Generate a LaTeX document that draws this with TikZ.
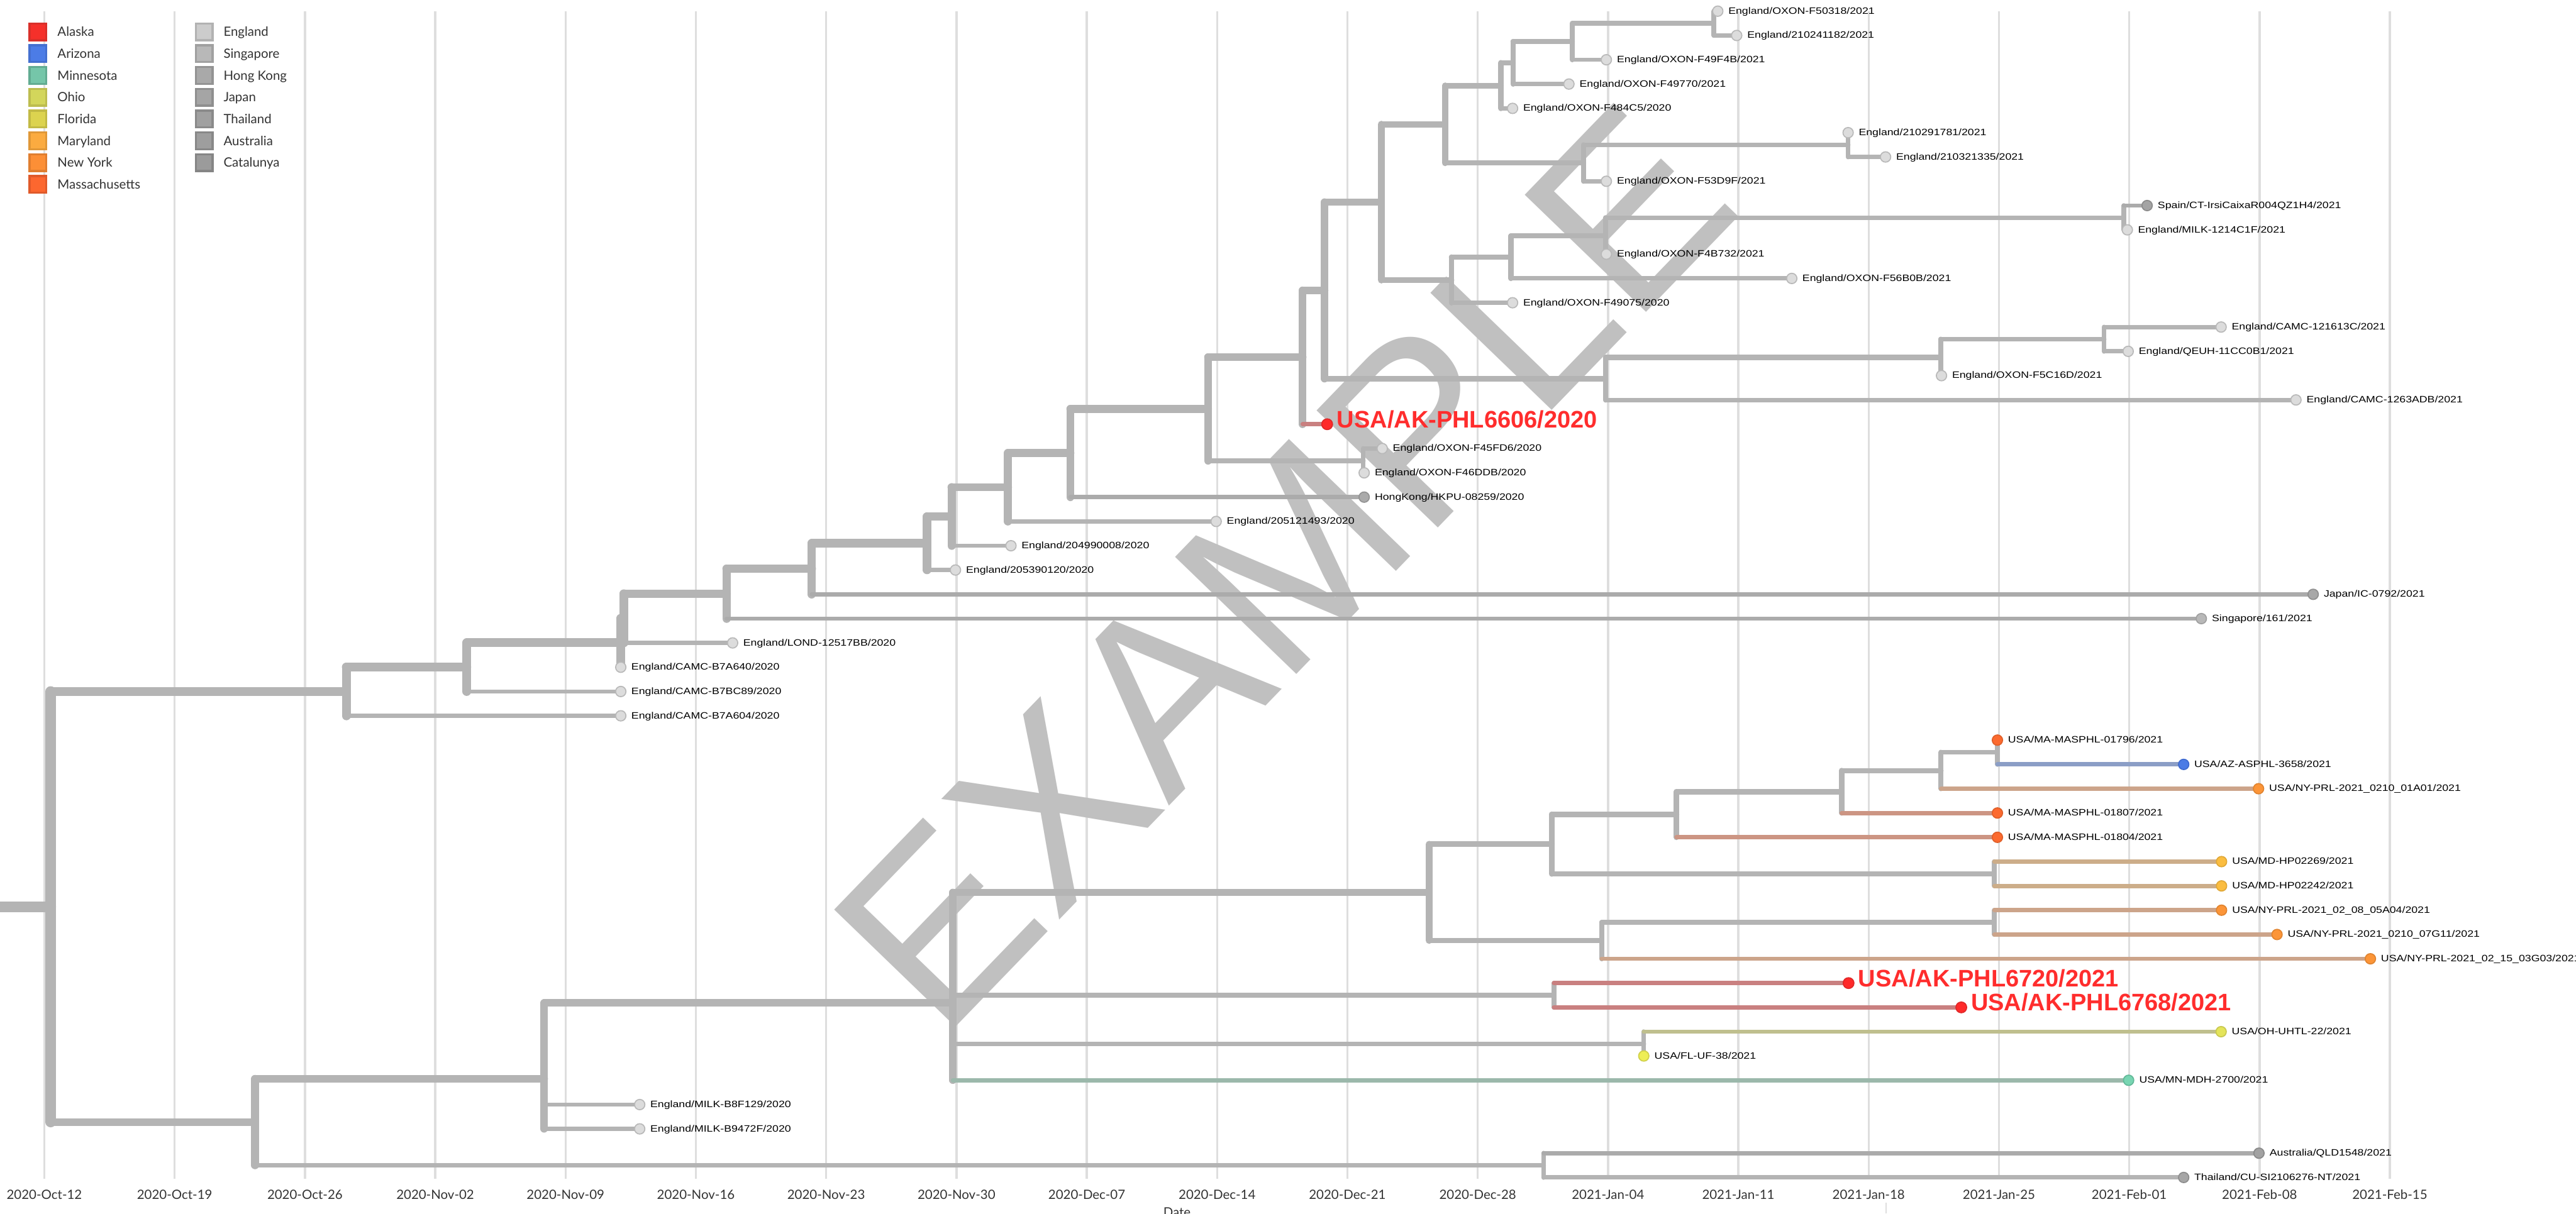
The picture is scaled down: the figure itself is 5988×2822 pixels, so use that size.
\documentclass[tikz,border=0pt]{standalone}
\usepackage{fontspec}
\setmainfont{Liberation Sans}
\newfontfamily\labfont[FakeStretch=1.2]{Liberation Sans}
\newfontfamily\bigfont{Liberation Sans}
\newfontfamily\latofont{Lato}
\newfontfamily\wmfont{Liberation Sans}
\definecolor{brgray}{HTML}{B4B4B4}
\definecolor{gridc}{HTML}{DEDEDE}
\definecolor{wmgray}{HTML}{C0C0C0}
\definecolor{axtext}{HTML}{333333}
\definecolor{akred}{HTML}{FF2D2D}
% branch colours
\definecolor{brAK}{HTML}{C98080}
\definecolor{brAZ}{HTML}{8B9EC6}
\definecolor{brNY}{HTML}{CCA48A}
\definecolor{brMA}{HTML}{CC9583}
\definecolor{brMD}{HTML}{CCAD89}
\definecolor{brOH}{HTML}{BFBF8E}
\definecolor{brMN}{HTML}{9BB8AB}
\definecolor{brDK}{HTML}{ABABAB}
% tip colours
\definecolor{engF}{HTML}{DCDCDC}\definecolor{engD}{HTML}{B9B9B9}
\definecolor{sinF}{HTML}{B8B8B8}\definecolor{sinD}{HTML}{A0A0A0}
\definecolor{hkF}{HTML}{AAAAAA}\definecolor{hkD}{HTML}{939393}
\definecolor{jpF}{HTML}{A8A8A8}\definecolor{jpD}{HTML}{909090}
\definecolor{thF}{HTML}{A6A6A6}\definecolor{thD}{HTML}{8E8E8E}
\definecolor{auF}{HTML}{A2A2A2}\definecolor{auD}{HTML}{8A8A8A}
\definecolor{caF}{HTML}{A4A4A4}\definecolor{caD}{HTML}{8C8C8C}
\definecolor{akF}{HTML}{FF2A2A}\definecolor{akD}{HTML}{E02828}
\definecolor{azF}{HTML}{4B7BE5}\definecolor{azD}{HTML}{3F6BD0}
\definecolor{mnF}{HTML}{78D5B2}\definecolor{mnD}{HTML}{62B898}
\definecolor{ohF}{HTML}{E4E45A}\definecolor{ohD}{HTML}{C8C850}
\definecolor{flF}{HTML}{EEEE55}\definecolor{flD}{HTML}{D0D04A}
\definecolor{mdF}{HTML}{FBBD40}\definecolor{mdD}{HTML}{E0A838}
\definecolor{nyF}{HTML}{FC9538}\definecolor{nyD}{HTML}{E08430}
\definecolor{maF}{HTML}{FC6A2F}\definecolor{maD}{HTML}{E0602A}
% legend colours
\definecolor{lAKf}{HTML}{F5302A}\definecolor{lAKd}{HTML}{D9302A}
\definecolor{lAZf}{HTML}{4C7CE6}\definecolor{lAZd}{HTML}{4470D0}
\definecolor{lMNf}{HTML}{75C6A9}\definecolor{lMNd}{HTML}{62AC92}
\definecolor{lOHf}{HTML}{D3D65B}\definecolor{lOHd}{HTML}{BDBD4F}
\definecolor{lFLf}{HTML}{DCD34F}\definecolor{lFLd}{HTML}{C2BA45}
\definecolor{lMDf}{HTML}{FBAB40}\definecolor{lMDd}{HTML}{E09838}
\definecolor{lNYf}{HTML}{FC8F36}\definecolor{lNYd}{HTML}{E07E30}
\definecolor{lMAf}{HTML}{FC672F}\definecolor{lMAd}{HTML}{E05A2A}
\definecolor{lENf}{HTML}{CCCCCC}\definecolor{lENd}{HTML}{B2B2B2}
\definecolor{lSGf}{HTML}{B8B8B8}\definecolor{lSGd}{HTML}{A0A0A0}
\definecolor{lHKf}{HTML}{A9A9A9}\definecolor{lHKd}{HTML}{939393}
\definecolor{lJPf}{HTML}{A5A5A5}\definecolor{lJPd}{HTML}{8F8F8F}
\definecolor{lTHf}{HTML}{A0A0A0}\definecolor{lTHd}{HTML}{8A8A8A}
\definecolor{lAUf}{HTML}{9E9E9E}\definecolor{lAUd}{HTML}{888888}
\definecolor{lCAf}{HTML}{9B9B9B}\definecolor{lCAd}{HTML}{858585}

\tikzset{
  br/.style={line cap=round, draw=brgray, line width=#1*0.01cm},
  tipc/.style 2 args={circle, inner sep=0pt, minimum size=0.24cm, fill=#1, draw=#2, line width=0.025cm},
  bigtip/.style 2 args={circle, inner sep=0pt, minimum size=0.25cm, fill=#1, draw=#2, line width=0.025cm},
  lab/.style={anchor=base west, inner sep=0pt, xshift=0.24cm, yshift=-0.065cm, font=\labfont\fontsize{6.14pt}{7pt}\selectfont, text=black},
  biglab/.style={anchor=base west, inner sep=0pt, xshift=0.22cm, yshift=-0.08cm, font=\bigfont\bfseries\fontsize{15.8pt}{16pt}\selectfont, text=akred},
  sq/.style 2 args={rectangle, inner sep=0pt, minimum size=0.39cm, fill=#1, draw=#2, line width=0.05cm},
  legtxt/.style={anchor=base west, inner sep=0pt, yshift=-0.105cm, font=\latofont\fontsize{8.5pt}{9pt}\selectfont, text=axtext},
  axlab/.style={anchor=base, inner sep=0pt, font=\latofont\fontsize{8.5pt}{9pt}\selectfont, text=axtext},
  gridline/.style={draw=gridc, line width=0.05cm}
}
\newcommand\brH[4][brgray]{\draw[br=#4, draw=#1] (#2 |- #3) -- (#3);}
\newcommand\brV[4]{\draw[br=#4] (#1 |- #2) -- (#1 |- #3);}

\begin{document}
\begin{tikzpicture}[x=0.01cm, y=-0.01cm]
\useasboundingbox (0,0) rectangle (5988,2822);
\clip (0,0) rectangle (5988,2822);
\fill[white] (0,0) rectangle (5988,2822);

% ---------- grid and axis ----------
\foreach \lbl [count=\k from 0] in {2020-Oct-12,2020-Oct-19,2020-Oct-26,2020-Nov-02,2020-Nov-09,2020-Nov-16,2020-Nov-23,2020-Nov-30,2020-Dec-07,2020-Dec-14,2020-Dec-21,2020-Dec-28,2021-Jan-04,2021-Jan-11,2021-Jan-18,2021-Jan-25,2021-Feb-01,2021-Feb-08,2021-Feb-15}{
  \coordinate (G\k t) at (103+302.9*\k, 27);
  \coordinate (G\k b) at (103+302.9*\k, 2741);
  \draw[gridline] (G\k t) -- (G\k b);
  \node[axlab] (X\k) at (103+302.9*\k, 2788) {\lbl};
}
\node[axlab] (date) at (2736, 2830) {Date};
\coordinate (sb1) at (4384, 2797);
\coordinate (sb2) at (4384, 2822);
\draw[draw=gridc, line width=0.02cm] (sb1) -- (sb2);

% ---------- watermark ----------
\node[rotate=46, inner sep=0pt, text=wmgray, font=\wmfont\fontsize{162pt}{162pt}\selectfont] (WM) at (2983,1318) {EXAMPLE};

% ---------- tips ----------
\coordinate (t0) at (3993, 26);
\coordinate (t1) at (4037, 82.5);
\coordinate (t2) at (3734, 139);
\coordinate (t3) at (3647, 195.5);
\coordinate (t4) at (3516, 252);
\coordinate (t5) at (4296, 308.5);
\coordinate (t6) at (4383, 365);
\coordinate (t7) at (3734, 421.5);
\coordinate (t8) at (4991, 478);
\coordinate (t9) at (4945, 534.5);
\coordinate (t10) at (3734, 591);
\coordinate (t11) at (4165, 647.5);
\coordinate (t12) at (3516, 704);
\coordinate (t13) at (5163, 760.5);
\coordinate (t14) at (4947, 817);
\coordinate (t15) at (4513, 873.5);
\coordinate (t16) at (5337, 930);
\coordinate (t17) at (3085, 986.5);
\coordinate (t18) at (3213, 1043);
\coordinate (t19) at (3171, 1099.5);
\coordinate (t20) at (3171, 1156);
\coordinate (t21) at (2827, 1212.5);
\coordinate (t22) at (2350, 1269);
\coordinate (t23) at (2221, 1325.5);
\coordinate (t24) at (5377, 1382);
\coordinate (t25) at (5117, 1438.5);
\coordinate (t26) at (1703, 1495);
\coordinate (t27) at (1443, 1551.5);
\coordinate (t28) at (1443, 1608);
\coordinate (t29) at (1443, 1664.5);
\coordinate (t30) at (4643, 1721);
\coordinate (t31) at (5076, 1777.5);
\coordinate (t32) at (5250, 1834);
\coordinate (t33) at (4643, 1890.5);
\coordinate (t34) at (4643, 1947);
\coordinate (t35) at (5164, 2003.5);
\coordinate (t36) at (5164, 2060);
\coordinate (t37) at (5164, 2116.5);
\coordinate (t38) at (5293, 2173);
\coordinate (t39) at (5510, 2229.5);
\coordinate (t40) at (4297, 2286);
\coordinate (t41) at (4559, 2342.5);
\coordinate (t42) at (5163, 2399);
\coordinate (t43) at (3821, 2455.5);
\coordinate (t44) at (4948, 2512);
\coordinate (t45) at (1487, 2568.5);
\coordinate (t46) at (1487, 2625);
\coordinate (t47) at (5251, 2681.5);
\coordinate (t48) at (5076, 2738);

% ---------- internal nodes ----------
\coordinate (r0) at (0, 2108.53);
\coordinate (root) at (118, 2108.53);
\coordinate (a19) at (805, 1607.91);
\coordinate (a18) at (1085, 1551.32);
\coordinate (a17) at (1443, 1494.64);
\coordinate (a16) at (1450, 1437.78);
\coordinate (a15) at (1689, 1380.56);
\coordinate (a14) at (1887, 1322.63);
\coordinate (a13) at (2155, 1263.26);
\coordinate (a12) at (2212, 1201.01);
\coordinate (a11) at (2343, 1133.02);
\coordinate (a10) at (2488, 1053.54);
\coordinate (a9) at (2808, 951.08);
\coordinate (a8) at (3028, 830.9);
\coordinate (a7) at (3079, 675.3);
\coordinate (a6) at (3211, 470.05);
\coordinate (a5) at (3359, 289.08);
\coordinate (a4) at (3489, 199.03);
\coordinate (a3) at (3517, 146.06);
\coordinate (a2) at (3655, 96.63);
\coordinate (a1) at (3984, 54.25);
\coordinate (b2) at (3681, 379.13);
\coordinate (b1) at (4296, 336.75);
\coordinate (c4) at (3374, 651.03);
\coordinate (c3) at (3512, 598.06);
\coordinate (c2) at (3732, 548.63);
\coordinate (c1) at (4937, 506.25);
\coordinate (d3) at (3732, 880.56);
\coordinate (d2) at (4511, 831.13);
\coordinate (d1) at (4891, 788.75);
\coordinate (e1) at (3169, 1071.25);
\coordinate (q1) at (593, 2609.15);
\coordinate (n1) at (1265, 2508.54);
\coordinate (m1) at (2215, 2332.13);
\coordinate (k1) at (3322, 2075.01);
\coordinate (f5) at (3607, 1962.89);
\coordinate (f4) at (3897, 1894.03);
\coordinate (f3) at (4281, 1841.06);
\coordinate (f2) at (4512, 1791.63);
\coordinate (f1) at (4643, 1749.25);
\coordinate (g1) at (4636, 2031.75);
\coordinate (h2) at (3723, 2187.13);
\coordinate (h1) at (4636, 2144.75);
\coordinate (i1) at (3612, 2314.25);
\coordinate (j1) at (3821, 2427.25);
\coordinate (p1) at (3588, 2709.75);

% ---------- vertical branches ----------
\brV{root}{a19}{q1}{24.4}
\brV{a19}{a18}{t29}{20.7}
\brV{a18}{a17}{t28}{20.5}
\brV{a17}{a16}{t27}{20.3}
\brV{a16}{a15}{t26}{20.1}
\brV{a15}{a14}{t25}{19.8}
\brV{a14}{a13}{t24}{19.6}
\brV{a13}{a12}{t23}{19.4}
\brV{a12}{a11}{t22}{19.1}
\brV{a11}{a10}{t21}{18.9}
\brV{a10}{a9}{t20}{18.6}
\brV{a9}{a8}{e1}{18.3}
\brV{a8}{a7}{t17}{17.8}
\brV{a7}{a6}{d3}{17.5}
\brV{a6}{a5}{c4}{16.3}
\brV{a5}{a4}{b2}{14.4}
\brV{a4}{a3}{t4}{13}
\brV{a3}{a2}{t3}{12.4}
\brV{a2}{a1}{t2}{11.8}
\brV{a1}{t0}{t1}{11}
\brV{b2}{b1}{t7}{11.8}
\brV{b1}{t5}{t6}{11}
\brV{c4}{c3}{t12}{13}
\brV{c3}{c2}{t11}{12.4}
\brV{c2}{c1}{t10}{11.8}
\brV{c1}{t8}{t9}{11}
\brV{d3}{d2}{t16}{12.4}
\brV{d2}{d1}{t15}{11.8}
\brV{d1}{t13}{t14}{11}
\brV{e1}{t18}{t19}{11}
\brV{q1}{n1}{p1}{18.1}
\brV{n1}{m1}{t46}{17.5}
\brV{m1}{k1}{t44}{16.9}
\brV{k1}{f5}{h2}{15.2}
\brV{f5}{f4}{g1}{14}
\brV{f4}{f3}{t34}{13}
\brV{f3}{f2}{t33}{12.4}
\brV{f2}{f1}{t32}{11.8}
\brV{f1}{t30}{t31}{11}
\brV{g1}{t35}{t36}{11}
\brV{h2}{h1}{t39}{11.8}
\brV{h1}{t37}{t38}{11}
\brV{i1}{t40}{t41}{11}
\brV{j1}{t42}{t43}{11}
\brV{p1}{t47}{t48}{11}

% ---------- horizontal branches ----------
\draw[br=24.4] (r0) -- (root);
\brH{root}{a19}{20.7} \brH{root}{q1}{18.1}
\brH{a19}{a18}{20.5} \brH{a19}{t29}{10}
\brH{a18}{a17}{20.3} \brH{a18}{t28}{10}
\brH{a17}{a16}{20.1} \brH{a17}{t27}{10}
\brH{a16}{a15}{19.8} \brH{a16}{t26}{10}
\brH{a15}{a14}{19.6} \brH[brDK]{a15}{t25}{10}
\brH{a14}{a13}{19.4} \brH[brDK]{a14}{t24}{10}
\brH{a13}{a12}{19.1} \brH{a13}{t23}{10}
\brH{a12}{a11}{18.9} \brH{a12}{t22}{10}
\brH{a11}{a10}{18.6} \brH{a11}{t21}{10}
\brH{a10}{a9}{18.3} \brH[brDK]{a10}{t20}{10}
\brH{a9}{a8}{17.8} \brH{a9}{e1}{11}
\brH{a8}{a7}{17.5} \brH[brAK]{a8}{t17}{10}
\brH{a7}{a6}{16.3} \brH{a7}{d3}{12.4}
\brH{a6}{a5}{14.4} \brH{a6}{c4}{13}
\brH{a5}{a4}{13} \brH{a5}{b2}{11.8}
\brH{a4}{a3}{12.4} \brH{a4}{t4}{10}
\brH{a3}{a2}{11.8} \brH{a3}{t3}{10}
\brH{a2}{a1}{11} \brH{a2}{t2}{10}
\brH{a1}{t0}{10} \brH{a1}{t1}{10}
\brH{b2}{b1}{11} \brH{b2}{t7}{10}
\brH{b1}{t5}{10} \brH{b1}{t6}{10}
\brH{c4}{c3}{12.4} \brH{c4}{t12}{10}
\brH{c3}{c2}{11.8} \brH{c3}{t11}{10}
\brH{c2}{c1}{11} \brH{c2}{t10}{10}
\brH[brDK]{c1}{t8}{10} \brH{c1}{t9}{10}
\brH{d3}{d2}{11.8} \brH{d3}{t16}{10}
\brH{d2}{d1}{11} \brH{d2}{t15}{10}
\brH{d1}{t13}{10} \brH{d1}{t14}{10}
\brH{e1}{t18}{10} \brH{e1}{t19}{10}
\brH{q1}{n1}{17.5} \brH{q1}{p1}{11}
\brH{n1}{m1}{16.9} \brH{n1}{t45}{10} \brH{n1}{t46}{10}
\brH{m1}{k1}{15.2} \brH{m1}{i1}{11} \brH{m1}{j1}{11} \brH[brMN]{m1}{t44}{10}
\brH{k1}{f5}{14} \brH{k1}{h2}{11.8}
\brH{f5}{f4}{13} \brH{f5}{g1}{11}
\brH{f4}{f3}{12.4} \brH[brMA]{f4}{t34}{10}
\brH{f3}{f2}{11.8} \brH[brMA]{f3}{t33}{10}
\brH{f2}{f1}{11} \brH[brNY]{f2}{t32}{10}
\brH[brMA]{f1}{t30}{10} \brH[brAZ]{f1}{t31}{10}
\brH[brMD]{g1}{t35}{10} \brH[brMD]{g1}{t36}{10}
\brH{h2}{h1}{11} \brH[brNY]{h2}{t39}{10}
\brH[brNY]{h1}{t37}{10} \brH[brNY]{h1}{t38}{10}
\brH[brAK]{i1}{t40}{10} \brH[brAK]{i1}{t41}{10}
\brH[brOH]{j1}{t42}{10} \brH[brOH]{j1}{t43}{10}
\brH[brDK]{p1}{t47}{10} \brH{p1}{t48}{10}

% ---------- tip circles ----------
\foreach \i in {0,1,2,3,4,5,6,7,9,10,11,12,13,14,15,16,18,19,21,22,23,26,27,28,29,45,46}{
  \node[tipc={engF}{engD}] (T\i) at (t\i) {};
}
\node[tipc={caF}{caD}] (T8) at (t8) {};
\node[tipc={hkF}{hkD}] (T20) at (t20) {};
\node[tipc={jpF}{jpD}] (T24) at (t24) {};
\node[tipc={sinF}{sinD}] (T25) at (t25) {};
\node[tipc={auF}{auD}] (T47) at (t47) {};
\node[tipc={thF}{thD}] (T48) at (t48) {};
\node[bigtip={akF}{akD}] (T17) at (t17) {};
\node[bigtip={akF}{akD}] (T40) at (t40) {};
\node[bigtip={akF}{akD}] (T41) at (t41) {};
\foreach \i in {30,33,34}{ \node[tipc={maF}{maD}] (T\i) at (t\i) {}; }
\node[tipc={azF}{azD}] (T31) at (t31) {};
\foreach \i in {32,37,38,39}{ \node[tipc={nyF}{nyD}] (T\i) at (t\i) {}; }
\foreach \i in {35,36}{ \node[tipc={mdF}{mdD}] (T\i) at (t\i) {}; }
\node[tipc={ohF}{ohD}] (T42) at (t42) {};
\node[tipc={flF}{flD}] (T43) at (t43) {};
\node[tipc={mnF}{mnD}] (T44) at (t44) {};

% ---------- tip labels ----------
\node[lab] (L0) at (t0) {England/OXON-F50318/2021};
\node[lab] (L1) at (t1) {England/210241182/2021};
\node[lab] (L2) at (t2) {England/OXON-F49F4B/2021};
\node[lab] (L3) at (t3) {England/OXON-F49770/2021};
\node[lab] (L4) at (t4) {England/OXON-F484C5/2020};
\node[lab] (L5) at (t5) {England/210291781/2021};
\node[lab] (L6) at (t6) {England/210321335/2021};
\node[lab] (L7) at (t7) {England/OXON-F53D9F/2021};
\node[lab] (L8) at (t8) {Spain/CT-IrsiCaixaR004QZ1H4/2021};
\node[lab] (L9) at (t9) {England/MILK-1214C1F/2021};
\node[lab] (L10) at (t10) {England/OXON-F4B732/2021};
\node[lab] (L11) at (t11) {England/OXON-F56B0B/2021};
\node[lab] (L12) at (t12) {England/OXON-F49075/2020};
\node[lab] (L13) at (t13) {England/CAMC-121613C/2021};
\node[lab] (L14) at (t14) {England/QEUH-11CC0B1/2021};
\node[lab] (L15) at (t15) {England/OXON-F5C16D/2021};
\node[lab] (L16) at (t16) {England/CAMC-1263ADB/2021};
\node[biglab] (L17) at (t17) {USA/AK-PHL6606/2020};
\node[lab] (L18) at (t18) {England/OXON-F45FD6/2020};
\node[lab] (L19) at (t19) {England/OXON-F46DDB/2020};
\node[lab] (L20) at (t20) {HongKong/HKPU-08259/2020};
\node[lab] (L21) at (t21) {England/205121493/2020};
\node[lab] (L22) at (t22) {England/204990008/2020};
\node[lab] (L23) at (t23) {England/205390120/2020};
\node[lab] (L24) at (t24) {Japan/IC-0792/2021};
\node[lab] (L25) at (t25) {Singapore/161/2021};
\node[lab] (L26) at (t26) {England/LOND-12517BB/2020};
\node[lab] (L27) at (t27) {England/CAMC-B7A640/2020};
\node[lab] (L28) at (t28) {England/CAMC-B7BC89/2020};
\node[lab] (L29) at (t29) {England/CAMC-B7A604/2020};
\node[lab] (L30) at (t30) {USA/MA-MASPHL-01796/2021};
\node[lab] (L31) at (t31) {USA/AZ-ASPHL-3658/2021};
\node[lab] (L32) at (t32) {USA/NY-PRL-2021\_0210\_01A01/2021};
\node[lab] (L33) at (t33) {USA/MA-MASPHL-01807/2021};
\node[lab] (L34) at (t34) {USA/MA-MASPHL-01804/2021};
\node[lab] (L35) at (t35) {USA/MD-HP02269/2021};
\node[lab] (L36) at (t36) {USA/MD-HP02242/2021};
\node[lab] (L37) at (t37) {USA/NY-PRL-2021\_02\_08\_05A04/2021};
\node[lab] (L38) at (t38) {USA/NY-PRL-2021\_0210\_07G11/2021};
\node[lab] (L39) at (t39) {USA/NY-PRL-2021\_02\_15\_03G03/2021};
\node[biglab] (L40) at (t40) {USA/AK-PHL6720/2021};
\node[biglab] (L41) at (t41) {USA/AK-PHL6768/2021};
\node[lab] (L42) at (t42) {USA/OH-UHTL-22/2021};
\node[lab] (L43) at (t43) {USA/FL-UF-38/2021};
\node[lab] (L44) at (t44) {USA/MN-MDH-2700/2021};
\node[lab] (L45) at (t45) {England/MILK-B8F129/2020};
\node[lab] (L46) at (t46) {England/MILK-B9472F/2020};
\node[lab] (L47) at (t47) {Australia/QLD1548/2021};
\node[lab] (L48) at (t48) {Thailand/CU-SI2106276-NT/2021};

% ---------- legend ----------
\foreach \f/\d/\t [count=\i from 0] in {lAKf/lAKd/Alaska, lAZf/lAZd/Arizona, lMNf/lMNd/Minnesota, lOHf/lOHd/Ohio, lFLf/lFLd/Florida, lMDf/lMDd/Maryland, lNYf/lNYd/New York, lMAf/lMAd/Massachusetts}{
  \node[sq={\f}{\d}] (KL\i) at (88, 74+50.7*\i) {};
  \node[legtxt] (KT\i) at (133, 74+50.7*\i) {\t};
}
\foreach \f/\d/\t [count=\i from 0] in {lENf/lENd/England, lSGf/lSGd/Singapore, lHKf/lHKd/Hong Kong, lJPf/lJPd/Japan, lTHf/lTHd/Thailand, lAUf/lAUd/Australia, lCAf/lCAd/Catalunya}{
  \node[sq={\f}{\d}] (KR\i) at (474.5, 74+50.7*\i) {};
  \node[legtxt] (KU\i) at (519, 74+50.7*\i) {\t};
}
\end{tikzpicture}
\end{document}
